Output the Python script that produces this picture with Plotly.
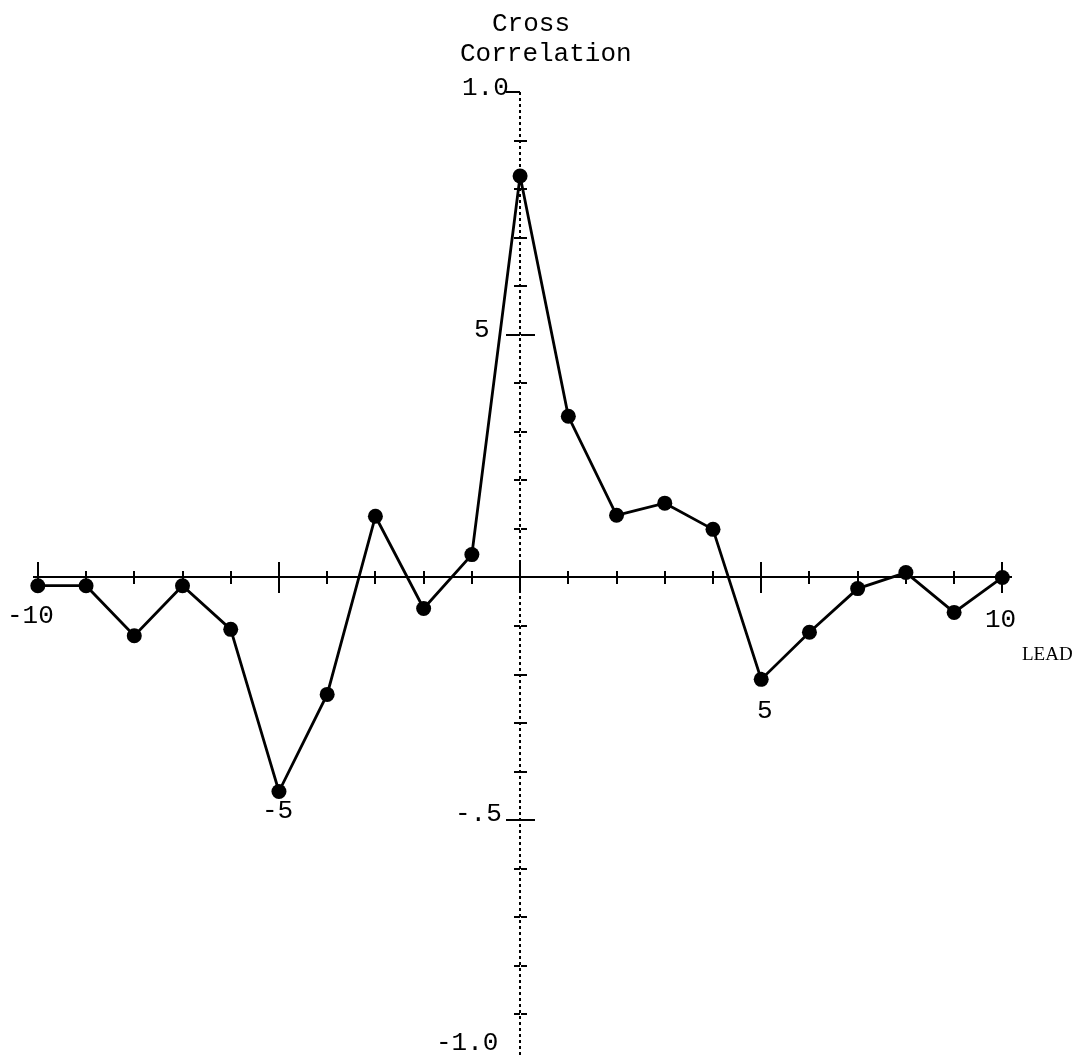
import plotly.graph_objects as go

# ---- data ----
lead = [-10, -9, -8, -7, -6, -5, -4, -3, -2, -1, 0, 1, 2, 3, 4, 5, 6, 7, 8, 9, 10]
cross_corr = [-0.017, -0.017, -0.12, -0.017, -0.107, -0.441, -0.241, 0.126, -0.064, 0.047,
              0.827, 0.332, 0.128, 0.153, 0.099, -0.21, -0.113, -0.023, 0.01, -0.072, 0.0]

x_tick_labels = ["-10", "-5", "5", "10"]
x_tick_label_pos = [(-10.15, -0.08), (-5.02, -0.482), (5.08, -0.276), (9.96, -0.087)]
y_tick_labels = ["1.0", "5", "-.5", "-1.0"]
y_tick_label_pos = [(-0.72, 1.008), (-0.80, 0.509), (-0.87, -0.488), (-1.10, -0.96)]

xr = [-10.1, 10.2]
yr = [-0.99, 1.0]

px0 = (0 - xr[0]) / (xr[1] - xr[0])
py0 = (0 - yr[0]) / (yr[1] - yr[0])


def to_paper(x, y):
    return (x - xr[0]) / (xr[1] - xr[0]), (y - yr[0]) / (yr[1] - yr[0])


MONO = "Liberation Mono, Courier New, monospace"
FS = 26

fig = go.Figure()
fig.add_trace(go.Scatter(
    x=lead, y=cross_corr, mode="lines+markers",
    line=dict(color="black", width=2.8),
    marker=dict(color="black", size=15),
    cliponaxis=False, showlegend=False, hoverinfo="x+y",
))
# helper traces so the overlay axes (cross ticks / dotted axis) are rendered
fig.add_trace(go.Scatter(x=lead, y=cross_corr, xaxis="x2", yaxis="y2", mode="markers",
                         opacity=0, showlegend=False, hoverinfo="skip"))
fig.add_trace(go.Scatter(x=lead, y=cross_corr, xaxis="x3", yaxis="y2", mode="markers",
                         opacity=0, showlegend=False, hoverinfo="skip"))

common_x = dict(range=xr, tickmode="linear", tick0=0, dtick=5, ticklen=15, tickwidth=2,
                tickcolor="black", showgrid=False, zeroline=False, showticklabels=False,
                anchor="free", position=py0)
common_y = dict(range=yr, tickmode="linear", tick0=0, dtick=0.5, ticklen=14, tickwidth=2,
                tickcolor="black", showgrid=False, zeroline=False, showticklabels=False,
                anchor="free", position=px0)

fig.update_layout(
    width=1085, height=1061,
    margin=dict(l=33, r=73, t=92, b=3, autoexpand=False),
    paper_bgcolor="white", plot_bgcolor="white",
    xaxis=dict(**common_x, ticks="outside", showline=True, linecolor="black", linewidth=2,
               minor=dict(ticks="outside", dtick=1, ticklen=6, tickwidth=1.5, tickcolor="black")),
    xaxis2=dict(**common_x, overlaying="x", ticks="inside", showline=False,
                minor=dict(ticks="inside", dtick=1, ticklen=6, tickwidth=1.5, tickcolor="black")),
    xaxis3=dict(range=xr, overlaying="x", tickmode="array", tickvals=[0], ticks="",
                showticklabels=False, showgrid=True, gridcolor="black", gridwidth=1.5,
                griddash="dot", zeroline=False, showline=False, anchor="free", position=0),
    yaxis=dict(**common_y, ticks="outside", showline=False,
               minor=dict(ticks="outside", dtick=0.1, ticklen=6, tickwidth=1.5, tickcolor="black")),
    yaxis2=dict(**common_y, overlaying="y", ticks="inside", showline=False,
                minor=dict(ticks="inside", dtick=0.1, ticklen=6, tickwidth=1.5, tickcolor="black")),
)

annotations = []


def add_text(txt, x, y, font):
    xp, yp = to_paper(x, y)
    annotations.append(dict(x=xp, y=yp, xref="paper", yref="paper", text=txt,
                            xanchor="center", yanchor="middle",
                            showarrow=False, font=font))


mono_font = dict(family=MONO, size=FS, color="black")
for txt, (ax, ay) in zip(x_tick_labels, x_tick_label_pos):
    add_text(txt, ax, ay, mono_font)
for txt, (ax, ay) in zip(y_tick_labels, y_tick_label_pos):
    add_text(txt, ax, ay, mono_font)
add_text("Cross", 0.23, 1.14, mono_font)
add_text("Correlation", 0.54, 1.078, mono_font)
add_text("LEAD", 10.93, -0.157,
         dict(family="Liberation Serif, Times New Roman, serif", size=19, color="black"))
fig.update_layout(annotations=annotations)

fig.write_html("out.html",
               config={"displayModeBar": False},
               post_script="document.body.style.margin='0px';")
